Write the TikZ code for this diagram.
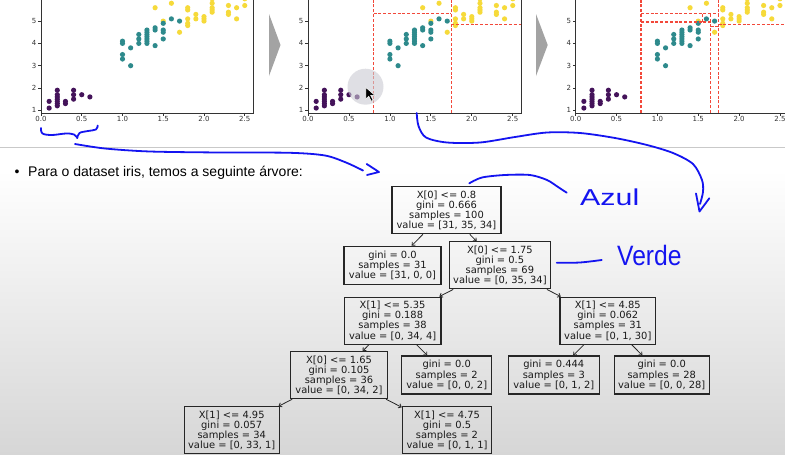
\documentclass[tikz,border=0pt]{standalone}
\usepackage{fontspec}
\setmainfont{Liberation Sans}
\newfontfamily\plotfont{DejaVu Sans}
\usetikzlibrary{arrows.meta}

\definecolor{setosa}{HTML}{44135A}
\definecolor{versicolor}{HTML}{2E8A8C}
\definecolor{virginica}{HTML}{F6DA3A}
\definecolor{splitred}{RGB}{242,72,58}
\definecolor{ink}{HTML}{1414F0}
\definecolor{rulegray}{HTML}{C9C9C9}
\definecolor{slidegray}{HTML}{D6D6D6}
\definecolor{pager}{HTML}{A3A3A3}
\definecolor{pointerhalo}{HTML}{CACAD2}

\tikzset{
  treebox/.style={draw=black!85, line width=1.1pt, text=black!90,
    font=\plotfont\fontsize{9.9}{10.2}\selectfont, align=center,
    inner sep=1.5pt, minimum height=47pt},
  leafbox/.style={treebox, minimum height=38pt},
  treeedge/.style={-{Straight Barb[length=2.5pt,width=4.5pt]}, line width=0.8pt, draw=black!85},
  spine/.style={draw=black!80, line width=0.8pt},
  ticklabel/.style={font=\plotfont\fontsize{7}{8}\selectfont, text=black!80, inner sep=0pt},
  splitline/.style={draw=splitred, line width=1.5pt, dash pattern=on 3pt off 1.8pt},
  handink/.style={draw=ink, line width=1.8pt, line cap=round, line join=round},
  handtext/.style={text=ink, inner sep=0pt},
  pagerarrow/.style={fill=pager},
}

% scatter of petal width (x) against petal length (y), one colour per class
\newcommand{\irisdots}{%
  \foreach \px/\py in {1.4/5.6, 1.5/5.0, 1.6/5.8, 1.7/4.5, 1.8/4.8, 1.8/4.9, 1.8/5.1,
      1.8/5.5, 1.8/5.6, 1.9/5.1, 1.9/5.3, 2.0/5.0, 2.0/5.1, 2.0/5.2, 2.1/5.4,
      2.1/5.5, 2.1/5.6, 2.1/5.8, 2.1/6.0, 2.3/5.3, 2.3/5.4, 2.3/5.7, 2.4/5.1,
      2.4/5.6, 2.5/5.7, 2.5/6.0, 1.8/6.1, 2.2/6.1}
    {\fill[virginica] (\px,\py) circle[radius=2.6pt];}
  \foreach \px/\py in {1.0/3.3, 1.0/3.5, 1.0/4.0, 1.0/4.1, 1.1/3.0, 1.1/3.8, 1.2/4.0,
      1.2/4.2, 1.2/4.4, 1.3/4.0, 1.3/4.1, 1.3/4.2, 1.3/4.3, 1.3/4.4, 1.3/4.5,
      1.3/4.6, 1.4/3.9, 1.4/4.6, 1.4/4.7, 1.5/4.2, 1.5/4.5, 1.5/4.6, 1.5/4.9,
      1.6/5.1, 1.7/5.0}
    {\fill[versicolor] (\px,\py) circle[radius=2.6pt];}
  \foreach \px/\py in {0.1/1.1, 0.1/1.4, 0.2/1.2, 0.2/1.3, 0.2/1.4, 0.2/1.5, 0.2/1.6,
      0.2/1.7, 0.2/1.9, 0.3/1.3, 0.3/1.4, 0.4/1.5, 0.4/1.7, 0.4/1.9, 0.5/1.7,
      0.6/1.6}
    {\fill[setosa] (\px,\py) circle[radius=2.6pt];}
}

% frame, ticks and tick labels of one scatter plot
\newcommand{\irisaxes}{%
  \draw[spine] (0,6.8) -- (0,0.879) -- (2.6,0.879) -- (2.6,6.8);
  \foreach \tk in {0.0,0.5,1.0,1.5,2.0,2.5}{%
    \draw[spine] (\tk,0.879) -- ++(0pt,-3pt);
    \node[ticklabel, anchor=north] at ([yshift=-3.2pt]\tk,0.879) {\tk};
  }
  \foreach \yv in {1,...,5}{%
    \draw[spine] (0,\yv) -- ++(-3pt,0pt);
    \node[ticklabel, anchor=east] at ([xshift=-4.5pt]0,\yv) {\yv};
  }
}

\begin{document}
\begin{tikzpicture}[x=1pt, y=-1pt]
  \useasboundingbox (0,0) rectangle (785,455);
  \clip (0,0) rectangle (785,455);

  % slide background
  \fill[white] (0,0) rectangle (785,455);
  \shade[top color=white, bottom color=slidegray] (0,170) rectangle (785,455);
  \draw[rulegray, line width=1.5pt] (0,147.5) -- (785,147.5);

  % plot 1: the data alone
  \begin{scope}[shift={(41,132.6)}, x=81.5pt, y=22.3pt]
    \irisdots
    \irisaxes
  \end{scope}

  % plot 2: first splits
  \begin{scope}[shift={(308,132.6)}, x=81.9pt, y=22.3pt]
    \irisdots
    \irisaxes
    \draw[splitline] (0.8,0.879) -- (0.8,6.8);
    \draw[splitline] (1.75,0.879) -- (1.75,6.8);
    \draw[splitline] (0.8,5.35) -- (1.75,5.35);
    \draw[splitline] (1.75,4.85) -- (2.6,4.85);
  \end{scope}

  % pointer over plot 2
  \fill[pointerhalo, opacity=0.6] (365.5,86.7) circle[radius=18];
  \filldraw[fill=black, draw=white, line width=0.6pt]
    (365.7,87.3) -- ++(0,12) -- ++(3,-3) -- ++(2.5,5) -- ++(2,-1)
    -- ++(-2.5,-5) -- ++(4.2,0) -- cycle;

  % plot 3: deeper splits
  \begin{scope}[shift={(575.7,132.6)}, x=81.7pt, y=22.3pt]
    \irisdots
    \irisaxes
    \draw[splitline] (0.8,0.879) -- (0.8,6.8);
    \draw[splitline] (1.75,0.879) -- (1.75,6.8);
    \draw[splitline] (1.65,0.879) -- (1.65,5.35);
    \draw[splitline] (0.8,5.35) -- (1.75,5.35);
    \draw[splitline] (0.8,4.95) -- (1.65,4.95);
    \draw[splitline] (1.55,4.95) -- (1.55,5.35);
    \draw[splitline] (1.65,4.75) -- (1.75,4.75);
    \draw[splitline] (1.75,4.85) -- (2.6,4.85);
  \end{scope}

  % step arrows between the plots
  \fill[pagerarrow] (269,14) -- (280.5,45) -- (269,76) -- cycle;
  \fill[pagerarrow] (536,14) -- (547.7,45) -- (536,76) -- cycle;

  % bullet line
  \node[anchor=base, font=\fontsize{14}{16}\selectfont, inner sep=0pt] (bullet) at (17,176.7) {•};
  \node[anchor=base west, font=\fontsize{14}{16}\selectfont, inner sep=0pt] (intro) at (28,176.7)
    {Para o dataset iris, temos a seguinte árvore:};

  % decision tree
  \node[treebox, minimum width=109pt] (root) at (446.5,210.3)
    {X[0] <= 0.8\\gini = 0.666\\samples = 100\\value = [31, 35, 34]};
  \node[leafbox, minimum width=97pt] (a) at (392.5,265.3)
    {gini = 0.0\\samples = 31\\value = [31, 0, 0]};
  \node[treebox, minimum width=101pt] (b) at (499.9,265.4)
    {X[0] <= 1.75\\gini = 0.5\\samples = 69\\value = [0, 35, 34]};
  \node[treebox, minimum width=96.7pt] (ba) at (392.6,320.6)
    {X[1] <= 5.35\\gini = 0.188\\samples = 38\\value = [0, 34, 4]};
  \node[treebox, minimum width=95.7pt] (bb) at (607.8,320.6)
    {X[1] <= 4.85\\gini = 0.062\\samples = 31\\value = [0, 1, 30]};
  \node[treebox, minimum width=96.6pt] (baa) at (339,375.2)
    {X[0] <= 1.65\\gini = 0.105\\samples = 36\\value = [0, 34, 2]};
  \node[leafbox, minimum width=90pt] (bab) at (446.7,375)
    {gini = 0.0\\samples = 2\\value = [0, 0, 2]};
  \node[leafbox, minimum width=91pt] (bba) at (553.8,375)
    {gini = 0.444\\samples = 3\\value = [0, 1, 2]};
  \node[leafbox, minimum width=95.3pt] (bbb) at (661.7,375)
    {gini = 0.0\\samples = 28\\value = [0, 0, 28]};
  \node[treebox, minimum width=95.3pt] (baaa) at (231.7,430.3)
    {X[1] <= 4.95\\gini = 0.057\\samples = 34\\value = [0, 33, 1]};
  \node[treebox, minimum width=89.4pt] (baab) at (447,430.3)
    {X[1] <= 4.75\\gini = 0.5\\samples = 2\\value = [0, 1, 1]};

  \draw[treeedge] (root) -- (a);
  \draw[treeedge] (root) -- (b);
  \draw[treeedge] (b) -- (ba);
  \draw[treeedge] (b) -- (bb);
  \draw[treeedge] (ba) -- (baa);
  \draw[treeedge] (ba) -- (bab);
  \draw[treeedge] (bb) -- (bba);
  \draw[treeedge] (bb) -- (bbb);
  \draw[treeedge] (baa) -- (baaa);
  \draw[treeedge] (baa) -- (baab);

  % pen notes
  \draw[handink] plot[smooth, tension=0.6] coordinates
    {(41,128) (42.5,133.5) (52,135) (66,133.5) (74,134.5) (77.3,138)};
  \draw[handink] plot[smooth, tension=0.6] coordinates
    {(77.3,138) (79.5,133) (88,131) (96,129.5) (97.7,125.5)};
  \draw[handink] plot[smooth] coordinates
    {(75,144) (105,148.5) (150,151.5) (220,152.5) (290,152.8) (325,155.5) (346,162.5) (363,170.5)};
  \draw[handink] (366.7,164) -- (379,172) -- (367,175);

  \draw[handink] plot[smooth] coordinates
    {(416.7,113) (418.5,126) (426,137.5) (447,142.5) (480,142.5) (515,137) (547,132.5)
     (580,133) (615,138) (647,145) (673,153) (693,164) (702,180) (703,192) (700,204)};
  \draw[handink] (696,193.5) -- (699.5,211.5) -- (709.3,198.3);

  \draw[handink] plot[smooth] coordinates
    {(469.3,183.3) (482,177.5) (505,175) (530,175) (547,180) (558,187) (566.7,192.7)};
  \node[handtext, anchor=base west, font=\fontsize{23}{23}\selectfont] (azul) at (580,205)
    {\scalebox{1.32}[1]{Azul}};

  \draw[handink] plot[smooth] coordinates {(556.7,262.8) (580,262.5) (601.7,260)};
  \node[handtext, anchor=base west, font=\fontsize{28}{28}\selectfont] (verde) at (617,265)
    {\scalebox{0.88}[1]{Verde}};
\end{tikzpicture}
\end{document}
